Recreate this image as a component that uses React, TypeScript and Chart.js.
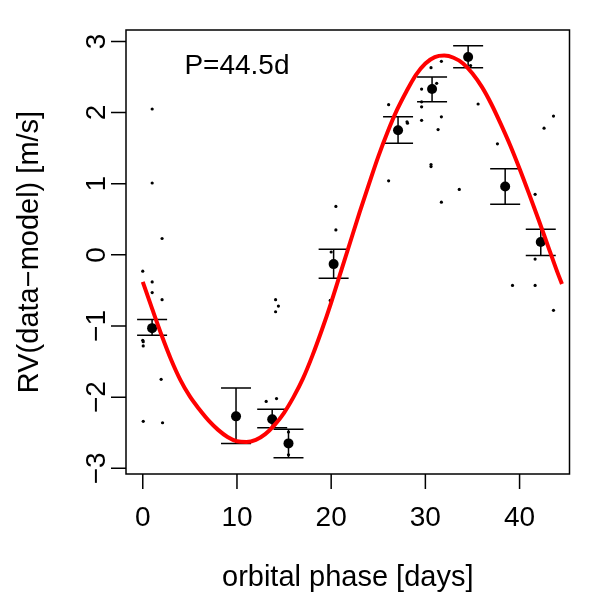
import { useEffect, useRef } from "react";
import { Chart, registerables } from "chart.js";

Chart.register(...registerables);

// ---- data ----
const periodLabel = "P=44.5d";
const xTitle = "orbital phase [days]";
const yTitle = "RV(data\u2212model) [m/s]";
const xTicks = [0, 10, 20, 30, 40];
const yTicks = [-3, -2, -1, 0, 1, 2, 3];

// individual residuals, folded on the period
const rawPhase = [
  0.0, 1.0, 1.0, 2.05, 0.0, 0.05, 0.05, 1.95, 0.05, 2.1, 1.0, 1.0, 2.05,
  13.1, 14.2, 14.1, 14.4, 14.1,
  15.47, 15.47,
  20.5, 20.5, 20.0, 19.9,
  26.1, 26.1, 28.05, 28.1,
  29.6, 29.6, 29.6, 29.6, 30.6, 31.7, 31.2, 31.7, 31.35, 30.6, 30.6, 31.7,
  33.6, 34.8, 35.6,
  37.65, 39.25,
  41.65, 41.65, 41.65, 42.6, 43.6, 43.6,
];
const rawRV = [
  -0.23, -0.38, -0.53, -0.63, -1.2, -1.22, -1.28, -1.75, -2.34, -2.36, 2.05, 1.01, 0.23,
  -2.06, -2.02, -0.63, -0.72, -0.8,
  -2.49, -2.81,
  0.68, 0.35, 0.04, -0.64,
  2.11, 1.04, 1.87, 1.85,
  2.33, 2.15, 2.08, 1.89, 2.63, 2.72, 2.41, 1.94, 1.76, 1.27, 1.24, 0.74,
  0.92, 2.66, 2.12,
  1.56, -0.43,
  0.85, -0.06, -0.43, 1.78, 1.95, -0.78,
];

// binned means with their error bars
const binPhase = [0.99, 9.9, 13.74, 15.47, 20.26, 27.1, 30.71, 34.54, 38.47, 42.25];
const binRV = [-1.03, -2.27, -2.31, -2.65, -0.13, 1.75, 2.33, 2.78, 0.96, 0.18];
const binLow = [-1.13, -2.65, -2.43, -2.85, -0.33, 1.57, 2.15, 2.63, 0.71, -0.01];
const binHigh = [-0.91, -1.87, -2.17, -2.45, 0.08, 1.94, 2.5, 2.94, 1.21, 0.36];

// orbit model curve, one value per day
const curvePhase = [
  0, 1, 2, 3, 4, 5, 6, 7, 8, 9, 10, 11, 12, 13, 14, 15, 16, 17, 18, 19, 20, 21, 22,
  23, 24, 25, 26, 27, 28, 29, 30, 31, 32, 33, 34, 35, 36, 37, 38, 39, 40, 41, 42, 43,
  44, 44.5,
];
const curveRV = [
  -0.38, -0.76, -1.13, -1.47, -1.76, -1.99, -2.17, -2.33, -2.46, -2.56, -2.62, -2.63,
  -2.6, -2.52, -2.39, -2.22, -2.0, -1.74, -1.42, -1.06, -0.67, -0.25, 0.17, 0.59, 0.99,
  1.38, 1.73, 2.04, 2.3, 2.53, 2.69, 2.78, 2.8, 2.77, 2.69, 2.55, 2.36, 2.12, 1.84,
  1.54, 1.21, 0.86, 0.5, 0.13, -0.24, -0.41,
];

const FONT = '"Liberation Sans", Arial, Helvetica, sans-serif';
const TICK_SIZE = 28;
const TITLE_SIZE = 29;

const fmt = (v: number) => (v < 0 ? "\u2212" + Math.abs(v) : String(v));

// R-style frame, axes, error bars and annotation
const rFrame = {
  id: "rFrame",
  afterDatasetDraw(chart: any, args: any) {
    if (args.index !== 1) return;
    const { ctx } = chart;
    const xs = chart.scales.x;
    const ys = chart.scales.y;
    ctx.save();
    ctx.strokeStyle = "#000";
    ctx.lineWidth = 1.5;
    binPhase.forEach((p, i) => {
      const x = xs.getPixelForValue(p);
      const yl = ys.getPixelForValue(binLow[i]);
      const yh = ys.getPixelForValue(binHigh[i]);
      ctx.beginPath();
      ctx.moveTo(x, yh);
      ctx.lineTo(x, yl);
      ctx.moveTo(x - 15, yh);
      ctx.lineTo(x + 15, yh);
      ctx.moveTo(x - 15, yl);
      ctx.lineTo(x + 15, yl);
      ctx.stroke();
    });
    ctx.restore();
  },
  afterDraw(chart: any) {
    const { ctx, chartArea } = chart;
    const { left, right, top, bottom } = chartArea;
    const xs = chart.scales.x;
    const ys = chart.scales.y;
    ctx.save();
    ctx.strokeStyle = "#000";
    ctx.fillStyle = "#000";
    ctx.lineWidth = 1.5;
    ctx.strokeRect(left, top, right - left, bottom - top);

    ctx.font = `${TICK_SIZE}px ${FONT}`;
    ctx.textAlign = "center";
    ctx.textBaseline = "middle";

    // x axis
    ctx.beginPath();
    xTicks.forEach((t) => {
      const x = xs.getPixelForValue(t);
      ctx.moveTo(x, bottom);
      ctx.lineTo(x, bottom + 15);
    });
    ctx.stroke();
    xTicks.forEach((t) => {
      ctx.fillText(fmt(t), xs.getPixelForValue(t), bottom + 44);
    });

    // y axis
    ctx.beginPath();
    yTicks.forEach((v) => {
      const y = ys.getPixelForValue(v);
      ctx.moveTo(left, y);
      ctx.lineTo(left - 15, y);
    });
    ctx.stroke();
    yTicks.forEach((v) => {
      const y = ys.getPixelForValue(v);
      ctx.save();
      ctx.translate(left - 29, y);
      ctx.rotate(-Math.PI / 2);
      ctx.fillText(fmt(v), 0, 0);
      ctx.restore();
    });

    // period annotation
    ctx.fillText(periodLabel, xs.getPixelForValue(10), ys.getPixelForValue(2.65));

    // axis titles
    ctx.font = `${TITLE_SIZE}px ${FONT}`;
    ctx.fillText(xTitle, (left + right) / 2, 578);
    ctx.save();
    ctx.translate(30, (top + bottom) / 2);
    ctx.rotate(-Math.PI / 2);
    ctx.fillText(yTitle, 0, 0);
    ctx.restore();
    ctx.restore();
  },
};

export default function App() {
  const canvasRef = useRef<HTMLCanvasElement | null>(null);

  useEffect(() => {
    const canvas = canvasRef.current;
    if (!canvas) return;
    const chart = new Chart(canvas, {
      type: "scatter",
      data: {
        datasets: [
          {
            type: "line",
            data: curvePhase.map((p, i) => ({ x: p, y: curveRV[i] })),
            borderColor: "#ff0000",
            borderWidth: 4,
            pointRadius: 0,
            cubicInterpolationMode: "monotone",
            fill: false,
            order: 0,
          } as any,
          {
            data: binPhase.map((p, i) => ({ x: p, y: binRV[i] })),
            pointRadius: 5,
            backgroundColor: "#000",
            borderWidth: 0,
            order: 1,
          },
          {
            data: rawPhase.map((p, i) => ({ x: p, y: rawRV[i] })),
            pointRadius: 1.6,
            backgroundColor: "#000",
            borderWidth: 0,
            order: 2,
          },
        ],
      },
      options: {
        responsive: false,
        animation: false,
        devicePixelRatio: 1,
        layout: { padding: { left: 126, top: 30, right: 30.5, bottom: 126 } },
        scales: {
          x: { type: "linear", min: -1.78, max: 45.3, display: false },
          y: { type: "linear", min: -3.08, max: 3.16, display: false },
        },
        plugins: { legend: { display: false }, tooltip: { enabled: false } },
      },
      plugins: [rFrame],
    });
    return () => chart.destroy();
  }, []);

  return (
    <div
      style={{
        position: "fixed",
        left: 0,
        top: 0,
        width: 600,
        height: 600,
        background: "#fff",
      }}
    >
      <canvas ref={canvasRef} width={600} height={600} />
    </div>
  );
}
